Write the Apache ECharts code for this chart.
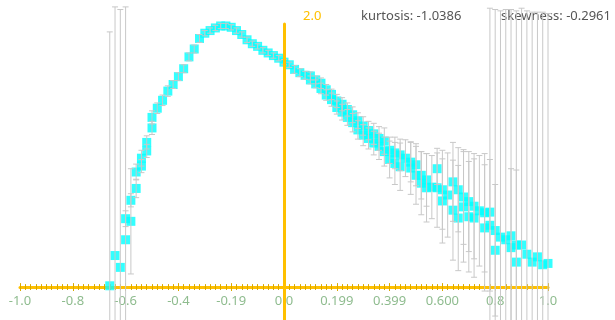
<!DOCTYPE html>
<html>
<head>
<meta charset="utf-8">
<script src="https://cdn.jsdelivr.net/npm/echarts@6/dist/echarts.min.js"></script>
<style>
  html, body { margin: 0; padding: 0; background: #ffffff; }
  #chart { width: 615px; height: 320px; }
</style>
</head>
<body>
<div id="chart"></div>
<script>
// Bin centres of the histogram
const binX = [
  -0.66, -0.64, -0.62, -0.60, -0.58, -0.56, -0.54, -0.52, -0.50, -0.48,
  -0.46, -0.44, -0.42, -0.40, -0.38, -0.36, -0.34, -0.32, -0.30, -0.28,
  -0.26, -0.24, -0.22, -0.20, -0.18, -0.16, -0.14, -0.12, -0.10, -0.08,
  -0.06, -0.04, -0.02, 0.00, 0.02, 0.04, 0.06, 0.08, 0.10, 0.12,
  0.14, 0.16, 0.18, 0.20, 0.22, 0.24, 0.26, 0.28, 0.30, 0.32,
  0.34, 0.36, 0.38, 0.40, 0.42, 0.44, 0.46, 0.48, 0.50, 0.52,
  0.54, 0.56, 0.58, 0.60, 0.62, 0.64, 0.66, 0.68, 0.70, 0.72,
  0.74, 0.76, 0.78, 0.80, 0.82, 0.84, 0.86, 0.88, 0.90, 0.92,
  0.94, 0.96, 0.98, 1.00
];

// Density estimate per bin (first sample) and its error
const upperY = [
  0.01, 0.24, 0.15, 0.52, 0.66, 0.875, 0.98, 1.10, 1.29, 1.36,
  1.42, 1.49, 1.54, 1.60, 1.66, 1.75, 1.81, 1.89, 1.93, 1.95,
  1.97, 1.985, 1.985, 1.975, 1.95, 1.92, 1.88, 1.85, 1.83, 1.80,
  1.78, 1.76, 1.74, 1.71, 1.69, 1.655, 1.63, 1.61, 1.605, 1.575,
  1.55, 1.50, 1.465, 1.415, 1.39, 1.35, 1.31, 1.265, 1.225, 1.19,
  1.165, 1.13, 1.11, 1.04, 1.02, 1.005, 0.98, 0.95, 0.93, 0.85,
  0.815, 0.76, 0.90, 0.74, 0.70, 0.80, 0.74, 0.685, 0.65, 0.615,
  0.58, 0.565, 0.57, 0.43, 0.38, 0.36, 0.39, 0.32, 0.32, 0.25,
  0.19, 0.23, 0.17, 0.18
];
const upperErr = [
  1.93, 1.89, 1.96, 0.06, 0.05, 0.06, 0.06, 0.05, 0.05, 0.04,
  0.04, 0.04, 0.03, 0.03, 0.03, 0.03, 0.03, 0.03, 0.02, 0.02,
  0.02, 0.02, 0.02, 0.02, 0.02, 0.02, 0.02, 0.02, 0.02, 0.02,
  0.02, 0.02, 0.02, 0.02, 0.02, 0.03, 0.03, 0.03, 0.03, 0.03,
  0.04, 0.04, 0.04, 0.05, 0.05, 0.05, 0.06, 0.06, 0.07, 0.07,
  0.08, 0.09, 0.10, 0.10, 0.12, 0.12, 0.14, 0.15, 0.16, 0.18,
  0.20, 0.24, 0.12, 0.30, 0.32, 0.30, 0.32, 0.36, 0.38, 0.40,
  0.42, 0.45, 1.55, 1.68, 1.72, 1.75, 1.72, 1.78, 1.80, 1.85,
  1.90, 1.86, 1.92, 1.90
];

// Second sample, only where it separates from the first
const lowerY = [
  null, null, null, 0.36, 0.50, 0.75, 0.92, 1.035, 1.21, null,
  null, null, null, null, null, null, null, null, null, null,
  null, null, null, null, null, null, null, null, null, null,
  null, null, null, null, null, null, null, null, 1.575, 1.545,
  1.51, 1.46, 1.425, 1.365, 1.33, 1.29, 1.25, 1.195, 1.155, 1.13,
  1.095, 1.07, 1.03, 0.97, 0.94, 0.915, null, 0.905, 0.85, 0.79,
  0.755, null, 0.755, 0.655, null, 0.585, 0.525, 0.61, 0.535, 0.525,
  null, 0.45, 0.47, 0.28, null, null, 0.30, 0.19, null, null,
  null, null, null, null
];
const lowerErr = [
  null, null, null, 1.77, 0.40, 0.07, 0.05, 0.05, 0.05, null,
  null, null, null, null, null, null, null, null, null, null,
  null, null, null, null, null, null, null, null, null, null,
  null, null, null, null, null, null, null, null, 0.03, 0.03,
  0.04, 0.04, 0.05, 0.05, 0.06, 0.06, 0.07, 0.07, 0.08, 0.08,
  0.09, 0.10, 0.11, 0.14, 0.16, 0.18, null, 0.20, 0.22, 0.24,
  0.26, null, 0.30, 0.32, null, 0.38, 0.40, 0.42, 0.42, 0.45,
  null, 0.48, 0.50, 0.50, null, null, 0.60, 0.70, null, null,
  null, null, null, null
];

const tickLabels = ['-1.0', '-0.8', '-0.6', '-0.4', '-0.19', '0.0', '0.199', '0.399', '0.600', '0.8', '1.0'];
const peakLabel = '2.0';
const statTexts = ['kurtosis: -1.0386', 'skewness: -0.2961'];

const FONT = 'Noto Sans';
const ORANGE = '#FFC000';
const TICK = '#d9a900';

// Assemble [x, y, err] triples for both samples
const points = [];
binX.forEach((x, i) => {
  points.push([x, upperY[i], upperErr[i]]);
  if (lowerY[i] != null) points.push([x, lowerY[i], lowerErr[i]]);
});

function renderErrorBar(params, api) {
  const x = api.value(0), y = api.value(1), e = api.value(2);
  const hi = api.coord([x, y + e]);
  const lo = api.coord([x, y - e]);
  const cap = 3;
  const style = { stroke: '#c8c8c8', lineWidth: 1 };
  return {
    type: 'group',
    children: [
      { type: 'line', shape: { x1: hi[0], y1: hi[1], x2: lo[0], y2: lo[1] }, style },
      { type: 'line', shape: { x1: hi[0] - cap, y1: hi[1], x2: hi[0] + cap, y2: hi[1] }, style },
      { type: 'line', shape: { x1: lo[0] - cap, y1: lo[1], x2: lo[0] + cap, y2: lo[1] }, style }
    ]
  };
}

const chart = echarts.init(document.getElementById('chart'), null, { renderer: 'canvas' });

chart.setOption({
  animation: false,
  backgroundColor: '#ffffff',
  textStyle: { fontFamily: FONT },
  grid: [
    // plotting area, y from -0.25 to 2
    { left: 20, right: 67, top: 24, bottom: 0, outerBoundsMode: 'none', containLabel: false },
    // strip whose bottom edge sits at y = 0, carrying the tick labels
    { left: 20, right: 67, top: 24, bottom: 33, outerBoundsMode: 'none', containLabel: false }
  ],
  graphic: [
    { type: 'text', left: 303, top: 10, z: 1,
      style: { text: peakLabel, fill: ORANGE, font: '13px "' + FONT + '"' } },
    { type: 'text', left: 361, top: 10, z: 1,
      style: { text: statTexts[0], fill: '#555555', font: '13px "' + FONT + '"' } },
    { type: 'text', left: 501, top: 10, z: 1,
      style: { text: statTexts[1], fill: '#555555', font: '13px "' + FONT + '"' } }
  ],
  xAxis: [
    {
      type: 'value', gridIndex: 0, min: -1, max: 1, interval: 0.2,
      axisLine: { show: true, onZero: true, lineStyle: { color: ORANGE, width: 3 } },
      axisTick: { show: true, inside: true, length: 4, lineStyle: { color: TICK, width: 1 } },
      minorTick: { show: true, splitNumber: 10, length: 3, lineStyle: { color: TICK, width: 1 } },
      splitLine: { show: false },
      axisLabel: { show: false }
    },
    {
      type: 'value', gridIndex: 1, min: -1, max: 1, interval: 0.2, position: 'bottom',
      axisLine: { show: false, onZero: false },
      axisTick: { show: true, length: 4, lineStyle: { color: TICK, width: 1 } },
      minorTick: { show: true, splitNumber: 10, length: 3, lineStyle: { color: TICK, width: 1 } },
      splitLine: { show: false },
      axisLabel: {
        margin: 8, color: '#8fbc8f', fontSize: 13, fontFamily: FONT,
        formatter: v => tickLabels[Math.round((v + 1) / 0.2)]
      }
    }
  ],
  yAxis: [
    {
      type: 'value', gridIndex: 0, min: -0.25, max: 2, interval: 0.25, z: 5,
      axisLine: { show: true, onZero: true, lineStyle: { color: ORANGE, width: 3 } },
      axisTick: { show: false },
      splitLine: { show: false },
      axisLabel: { show: false }
    },
    { type: 'value', gridIndex: 1, min: 0, max: 2, show: false }
  ],
  series: [
    {
      type: 'scatter', xAxisIndex: 0, yAxisIndex: 0, z: 2,
      symbol: 'rect', symbolSize: 9,
      itemStyle: { color: '#00FFFF' },
      data: points.map(p => [p[0], p[1]])
    },
    {
      type: 'custom', xAxisIndex: 0, yAxisIndex: 0, z: 4, clip: false,
      renderItem: renderErrorBar,
      encode: { x: 0, y: 1 },
      data: points
    }
  ]
});
</script>
</body>
</html>
